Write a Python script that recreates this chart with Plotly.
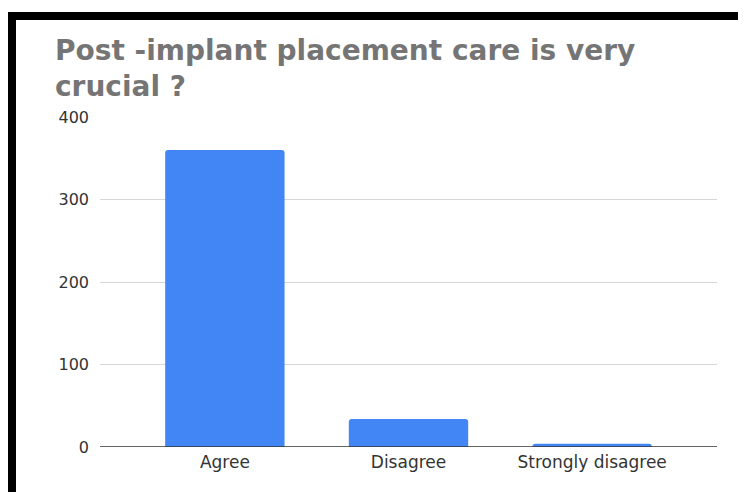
import plotly.graph_objects as go

categories = ["Agree", "Disagree", "Strongly disagree"]
values = [360, 34, 4]
y_ticks = [0, 100, 200, 300, 400]
title_lines = ["Post -implant placement care is very", "crucial ?"]

# page body has an 8px margin, so work in figure coords = reference coords - 8
OFF = 8
W, H = 746 - OFF, 492 - OFF
L, R, T, B = 100 - OFF, 29, 117 - OFF, 45
PW, PH = W - L - R, H - T - B

def px(x):
    return (x - OFF - L) / PW

def py(y):
    return (H - B - (y - OFF)) / PH

FONT = "DejaVu Sans, Liberation Sans, Arial, sans-serif"

fig = go.Figure(go.Bar(
    x=categories, y=values,
    marker=dict(color="#4285F4", cornerradius=3, line=dict(width=0)),
    hoverinfo="x+y",
))

fig.update_layout(
    width=W, height=H,
    margin=dict(l=L, r=R, t=T, b=B),
    paper_bgcolor="white", plot_bgcolor="white",
    bargap=0.35,
    showlegend=False,
    font=dict(family=FONT, color="#333333"),
    xaxis=dict(range=[-0.68, 2.68], showgrid=False, showline=False, zeroline=False,
               ticks="", tickfont=dict(size=17, color="#333333"), ticklabelstandoff=3),
    yaxis=dict(range=[0, 400], tickvals=y_ticks, showgrid=True, gridcolor="#d6d6d6",
               gridwidth=1, zeroline=False, showline=False, ticks="",
               tickfont=dict(size=16, color="#333333"), ticklabelstandoff=10),
    shapes=[
        dict(type="line", xref="paper", yref="y", x0=0, x1=1, y0=0, y1=0,
             line=dict(color="#333333", width=1.5)),
        dict(type="rect", xref="paper", yref="paper", x0=px(8), x1=px(16), y0=py(500), y1=py(12),
             fillcolor="black", line=dict(width=0)),
        dict(type="rect", xref="paper", yref="paper", x0=px(8), x1=px(760), y0=py(20), y1=py(12),
             fillcolor="black", line=dict(width=0)),
    ],
    annotations=[
        dict(text="<b>%s</b>" % "<br>".join(title_lines), xref="paper", yref="paper",
             x=px(53), y=py(68), xanchor="left", yanchor="middle", align="left",
             showarrow=False, font=dict(size=28, color="#757575", family=FONT)),
    ],
)

fig.write_html("out.html")
